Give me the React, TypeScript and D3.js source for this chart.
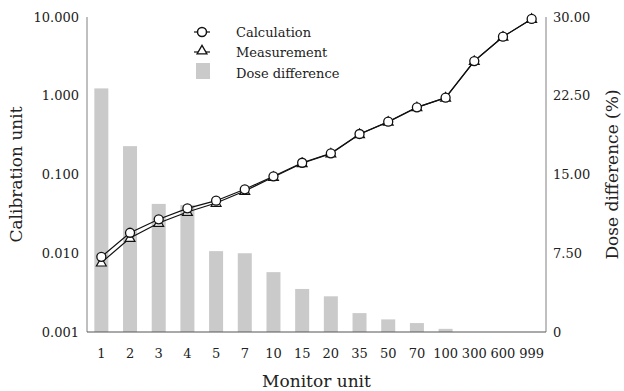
import React from "react";
import * as d3 from "d3";

const categories = ["1", "2", "3", "4", "5", "7", "10", "15", "20", "35", "50", "70", "100", "300", "600", "999"];
const calculation = [0.0090, 0.0182, 0.027, 0.0372, 0.0465, 0.0649, 0.0949, 0.141, 0.186, 0.327, 0.468, 0.713, 0.945, 2.76, 5.62, 9.44];
const measurement = [0.0076, 0.0156, 0.0242, 0.0334, 0.0435, 0.0617, 0.093, 0.139, 0.184, 0.325, 0.466, 0.711, 0.943, 2.75, 5.61, 9.43];
const doseDifference = [23.2, 17.7, 12.2, 12.1, 7.7, 7.5, 5.7, 4.1, 3.4, 1.8, 1.2, 0.85, 0.3, 0, 0, 0];
const leftTicks = [0.001, 0.01, 0.1, 1, 10];
const rightTicks = [0, 7.5, 15, 22.5, 30];

const W = 624, H = 391;
const L = 87, R = 546, T = 17, B = 332;
const FONT = "'DejaVu Serif', serif";

export default function App() {
  const x = d3.scaleBand<string>().domain(categories).range([L, R]).paddingInner(0).paddingOuter(0);
  const yLog = d3.scaleLog().domain([0.001, 10]).range([B, T]);
  const yLin = d3.scaleLinear().domain([0, 30]).range([B, T]);
  const cx = (c: string) => (x(c) as number) + x.bandwidth() / 2;
  const barW = 14;

  const line = d3.line<number>().x((_, i) => cx(categories[i])).y((d) => yLog(d));
  const tri = d3.symbol().type(d3.symbolTriangle).size(42)() as string;

  const fmtL = (v: number) => v.toFixed(3);
  const fmtR = (v: number) => (v === 0 ? "0" : v.toFixed(2));

  return (
    <svg width={W} height={H} style={{ position: "absolute", left: 0, top: 0, background: "#fff" }} fontFamily={FONT}>
      <rect x={0} y={0} width={W} height={H} fill="#fff" />
      {/* bars */}
      {doseDifference.map((d, i) => (
        <rect key={"b" + i} x={cx(categories[i]) - barW / 2} y={yLin(d)} width={barW} height={B - yLin(d)} fill="#cacaca" />
      ))}
      {/* axes */}
      <line x1={L} y1={T} x2={L} y2={B} stroke="#808080" strokeWidth={1} />
      <line x1={R} y1={T} x2={R} y2={B} stroke="#808080" strokeWidth={1} />
      <line x1={L} y1={B} x2={R} y2={B} stroke="#555" strokeWidth={1.2} />
      {leftTicks.map((t) => (
        <text key={"l" + t} x={L - 8} y={yLog(t)} textAnchor="end" dominantBaseline="central" fontSize={13} fill="#222">{fmtL(t)}</text>
      ))}
      {rightTicks.map((t) => (
        <text key={"r" + t} x={R + 7} y={yLin(t)} textAnchor="start" dominantBaseline="central" fontSize={13} fill="#222">{fmtR(t)}</text>
      ))}
      {categories.map((c) => (
        <text key={"c" + c} x={cx(c)} y={353} textAnchor="middle" dominantBaseline="central" fontSize={13} fill="#222">{c}</text>
      ))}
      {/* measurement */}
      <path d={line(measurement) as string} fill="none" stroke="#111" strokeWidth={1.2} />
      {measurement.map((d, i) => (
        <path key={"m" + i} d={tri} transform={`translate(${cx(categories[i])},${yLog(d) + 0.5})`} fill="#fff" stroke="#111" strokeWidth={1.2} />
      ))}
      {/* calculation */}
      <path d={line(calculation) as string} fill="none" stroke="#111" strokeWidth={1.2} />
      {calculation.map((d, i) => (
        <circle key={"k" + i} cx={cx(categories[i])} cy={yLog(d)} r={4.5} fill="#fff" stroke="#111" strokeWidth={1.3} />
      ))}
      {/* legend */}
      <line x1={194} y1={32} x2={210} y2={32} stroke="#111" strokeWidth={1.2} />
      <circle cx={202} cy={32} r={4.5} fill="#fff" stroke="#111" strokeWidth={1.5} />
      <text x={236} y={32} dominantBaseline="central" fontSize={13} fill="#222">Calculation</text>
      <line x1={194} y1={52} x2={210} y2={52} stroke="#111" strokeWidth={1.2} />
      <path d={tri} transform="translate(202,51)" fill="#fff" stroke="#111" strokeWidth={1.3} />
      <text x={236} y={52} dominantBaseline="central" fontSize={13} fill="#222">Measurement</text>
      <rect x={196} y={63} width={14} height={16} fill="#cacaca" />
      <text x={236} y={73} dominantBaseline="central" fontSize={13} fill="#222">Dose difference</text>
      {/* axis titles */}
      <text transform={`translate(16,${(T + B) / 2}) rotate(-90)`} textAnchor="middle" dominantBaseline="central" fontSize={17} fill="#222">Calibration unit</text>
      <text transform={`translate(612,${(T + B) / 2}) rotate(-90)`} textAnchor="middle" dominantBaseline="central" fontSize={17} fill="#222">Dose difference (%)</text>
      <text x={(L + R) / 2} y={381} textAnchor="middle" dominantBaseline="central" fontSize={17} fill="#222">Monitor unit</text>
    </svg>
  );
}
